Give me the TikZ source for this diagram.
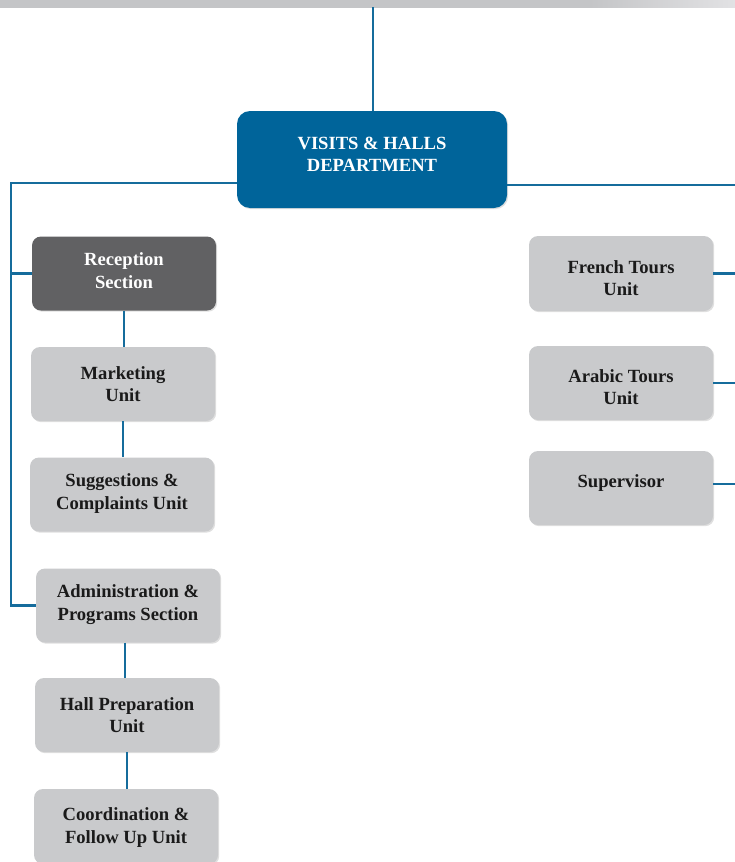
\documentclass[tikz,border=0pt]{standalone}
\usepackage{fontspec}
\setmainfont{Liberation Serif}
\usetikzlibrary{shadows}
\definecolor{deptblue}{HTML}{00649A}
\definecolor{linkblue}{HTML}{156C9C}
\definecolor{boxgray}{HTML}{C9CACC}
\definecolor{darkgray}{HTML}{616163}
\definecolor{bargray}{HTML}{C4C5C7}
\definecolor{barlight}{HTML}{E2E2E4}
\definecolor{txt}{HTML}{1A1A1A}
\begin{document}
\begin{tikzpicture}[x=1pt,y=-1pt,
  lbl/.style={align=center, inner sep=0pt, text=txt, font=\fontsize{18.6}{22.5}\selectfont\bfseries},
  wlbl/.style={lbl, text=white},
  unitbox/.style={rounded corners=9pt, fill=boxgray, minimum width=184pt, minimum height=74pt,
    inner sep=0pt,
    drop shadow={shadow xshift=1.2pt, shadow yshift=-1.2pt, opacity=0.25}},
  darkbox/.style={unitbox, fill=darkgray},
  deptbox/.style={unitbox, fill=deptblue, minimum width=270pt, minimum height=97pt,
    rounded corners=13pt},
  link/.style={draw=linkblue, line width=2.2pt}]
\useasboundingbox (0,0) rectangle (735,862);
% top bar
\fill[bargray] (0,0) rectangle (590,7.5);
\shade[left color=bargray, right color=barlight] (589.5,0) rectangle (735,7.5);

\node[deptbox, label={[wlbl,yshift=5pt]center:VISITS \& HALLS\\DEPARTMENT}] (dept) at (372,159.5) {};

\node[darkbox, label={[wlbl,yshift=3pt]center:Reception\\Section}] (rec) at (124,273.5) {};
\node[unitbox, label={[lbl]center:Marketing\\Unit}] (mkt) at (123,384) {};
\node[unitbox, label={[lbl,yshift=1pt]center:Suggestions \&\\Complaints Unit}] (sug) at (122,494.5) {};
\node[unitbox, label={[lbl,yshift=1pt]center:Administration \&\\Programs Section}] (adm) at (128,605.5) {};
\node[unitbox, label={[lbl,yshift=0pt]center:Hall Preparation\\Unit}] (hall) at (127,715) {};
\node[unitbox, minimum height=75pt, label={[lbl,yshift=-1pt]center:Coordination \&\\Follow Up Unit}] (coord) at (126,826.5) {};

\node[unitbox, minimum height=75pt, label={[lbl,yshift=-4.5pt]center:French Tours\\Unit}] (fr) at (621,273.5) {};
\node[unitbox, label={[lbl,yshift=-4pt]center:Arabic Tours\\Unit}] (ar) at (621,383) {};
\node[unitbox, label={[lbl,yshift=5pt]center:Supervisor}] (sup) at (621,488) {};

% connectors
\coordinate (top) at (373,7);
\coordinate (lt) at (11,183);
\coordinate (rt) at (735,185);
\draw[link] (top) -- (top |- dept.north);
\draw[link] (dept.west |- lt) -- (lt) -- (lt |- adm.west) -- (adm.west);
\draw[link] (lt |- rec.west) -- (rec.west);
\draw[link] (dept.east |- rt) -- (rt);
\draw[link] (rec.south) -- (rec.south |- mkt.north);
\draw[link] (mkt.south) -- (mkt.south |- sug.north);
\draw[link] ([xshift=-3pt]adm.south) -- ([xshift=-3pt]adm.south |- hall.north);
\draw[link] (hall.south) -- (hall.south |- coord.north);
\draw[link] (fr.east) -- (fr.east -| rt);
\draw[link] (ar.east) -- (ar.east -| rt);
\draw[link] ([yshift=4pt]sup.east) -- ([yshift=4pt]sup.east -| rt);
\end{tikzpicture}
\end{document}
